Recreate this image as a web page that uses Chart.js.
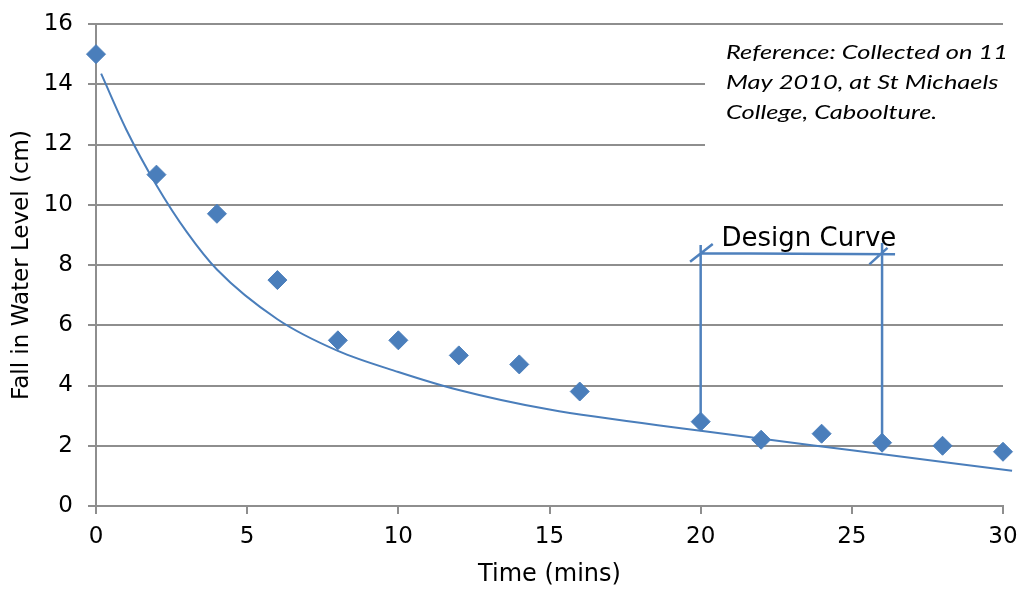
<!DOCTYPE html>
<html>
<head>
<meta charset="utf-8">
<script src="https://cdn.jsdelivr.net/npm/chart.js@4.4.1/dist/chart.umd.min.js"></script>
<style>
  html, body { margin: 0; padding: 0; background: #fff; }
</style>
</head>
<body>
<canvas id="chart" width="1027" height="589"></canvas>
<script>
// Measured points: time (mins) vs fall in water level (cm)
const timeMins = [0, 2, 4, 6, 8, 10, 12, 14, 16, 20, 22, 24, 26, 28, 30];
const fallCm = [15, 11, 9.7, 7.5, 5.5, 5.5, 5, 4.7, 3.8, 2.8, 2.2, 2.4, 2.1, 2.0, 1.8];

// Fitted curve
const curveX = [0.17, 1, 2, 3, 4, 6, 8, 10, 12, 15, 20, 25, 30.3];
const curveY = [14.35, 12.5, 10.65, 9.1, 7.85, 6.2, 5.15, 4.45, 3.85, 3.2, 2.5, 1.85, 1.17];

// "Design Curve" bracket, null = pen up
const designX = [20, 20, null, 20, 26.43, null, 26, 26, null, 19.65, 20.4, null, 25.58, 26.18];
const designY = [2.8, 8.66, null, 8.39, 8.36, null, 2.1, 8.73, null, 8.11, 8.70, null, 8.02, 8.57];

const xTicks = [0, 5, 10, 15, 20, 25, 30];
const yTicks = [0, 2, 4, 6, 8, 10, 12, 14, 16];

const noteLines = ['Reference: Collected on 11', 'May 2010, at St Michaels', 'College, Caboolture.'];
const designLabel = 'Design Curve';

const blue = '#4a7ebb';
const gridColor = '#8e8e8e';

Chart.defaults.font.family = '"DejaVu Sans", Verdana, sans-serif';

const toPoints = (xs, ys) => xs.map((x, i) => ({ x: x, y: ys[i] }));

// draws the note box and the "Design Curve" label under the datasets
const annotations = {
    id: 'annotations',
    beforeDatasetsDraw(chart) {
        const { ctx, scales: { x, y } } = chart;
        ctx.save();

        // white box hides the gridlines behind the note
        ctx.fillStyle = '#fff';
        ctx.fillRect(705, 30, 310, 120);

        ctx.fillStyle = '#000';
        ctx.font = 'italic 20px Lato, "Open Sans", sans-serif';
        ctx.textBaseline = 'alphabetic';
        ctx.textAlign = 'left';
        const sx = 282 / ctx.measureText(noteLines[0]).width;
        noteLines.forEach((line, i) => {
            ctx.save();
            ctx.translate(726, 59 + i * 30);
            ctx.scale(sx, 1);
            ctx.fillText(line, 0, 0);
            ctx.restore();
        });

        ctx.font = '26px "DejaVu Sans"';
        ctx.textAlign = 'center';
        ctx.textBaseline = 'middle';
        ctx.fillText(designLabel, x.getPixelForValue(23.58), y.getPixelForValue(8.86));
        ctx.restore();
    }
};

new Chart(document.getElementById('chart'), {
    type: 'scatter',
    data: {
        datasets: [
            {
                label: 'Measured',
                data: toPoints(timeMins, fallCm),
                pointStyle: 'rectRot',
                pointRadius: 9.5,
                pointHoverRadius: 9.5,
                pointBackgroundColor: blue,
                pointBorderColor: blue,
                pointBorderWidth: 1,
                clip: false,
                order: 0
            },
            {
                label: 'Curve',
                data: toPoints(curveX, curveY),
                showLine: true,
                borderColor: blue,
                borderWidth: 2,
                pointRadius: 0,
                cubicInterpolationMode: 'monotone',
                clip: false,
                order: 2
            },
            {
                label: 'Design Curve',
                data: toPoints(designX, designY),
                showLine: true,
                spanGaps: false,
                borderColor: '#4f81bd',
                borderWidth: 2.5,
                pointRadius: 0,
                clip: false,
                order: 1
            }
        ]
    },
    options: {
        responsive: false,
        animation: false,
        devicePixelRatio: 1,
        layout: { padding: { top: 24, right: 24, bottom: 0, left: 0 } },
        plugins: {
            legend: { display: false },
            tooltip: { enabled: false }
        },
        scales: {
            x: {
                type: 'linear',
                min: 0,
                max: 30,
                afterBuildTicks: (scale) => { scale.ticks = xTicks.map(v => ({ value: v })); },
                afterFit: (scale) => { scale.height = 83; },
                grid: { drawOnChartArea: false, drawTicks: true, tickLength: 8, color: gridColor, lineWidth: 2 },
                border: { display: true, color: gridColor, width: 2 },
                ticks: { color: '#000', font: { size: 23 }, padding: 9, maxRotation: 0 },
                title: { display: true, text: 'Time (mins)', color: '#000', font: { size: 24 }, padding: { top: 0, bottom: 0 } }
            },
            y: {
                type: 'linear',
                min: 0,
                max: 16,
                afterBuildTicks: (scale) => { scale.ticks = yTicks.map(v => ({ value: v })); },
                afterFit: (scale) => {
                    scale.width = 96;
                    // tick padding should not push the plot top down
                    scale.paddingTop = 12;
                    scale.paddingBottom = 12;
                },
                grid: { drawTicks: true, tickLength: 8, color: gridColor, lineWidth: 2 },
                border: { display: true, color: gridColor, width: 2 },
                ticks: { color: '#000', font: { size: 23 }, padding: 15 },
                title: { display: true, text: 'Fall in Water Level (cm)', color: '#000', font: { size: 23 }, padding: { top: 8, bottom: 0 } }
            }
        }
    },
    plugins: [annotations]
});
</script>
</body>
</html>
